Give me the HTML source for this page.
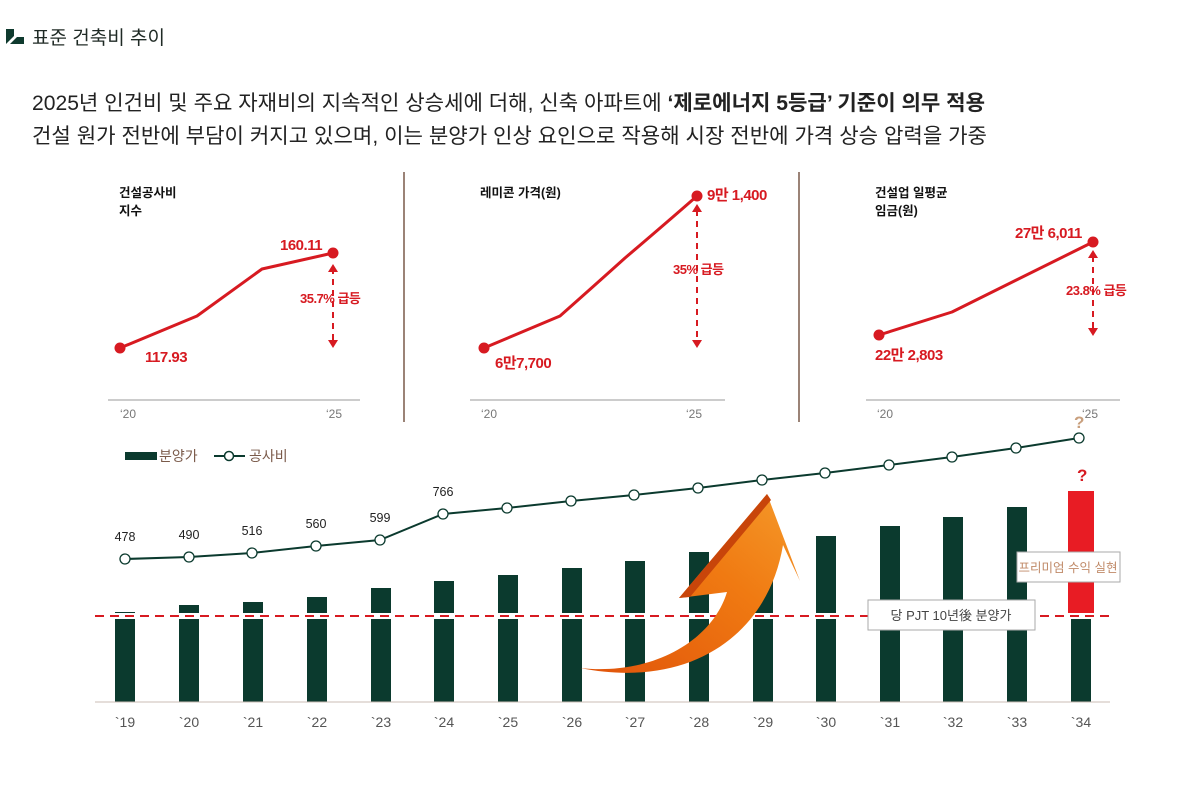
<!DOCTYPE html>
<html><head><meta charset="utf-8"><style>
body{margin:0;background:#fff;width:1200px;height:789px;overflow:hidden}
svg{display:block}
text{font-family:"Liberation Sans","Noto Sans CJK KR",sans-serif}
</style></head><body>
<svg width="1200" height="789" viewBox="0 0 1200 789">
<defs>
<linearGradient id="og" x1="0" y1="1" x2="1" y2="0">
<stop offset="0" stop-color="#e0530a"/><stop offset="0.6" stop-color="#f07a12"/><stop offset="1" stop-color="#f59a2a"/>
</linearGradient>
</defs>
<polygon points="6,29 14,29 14,36 6,44" fill="#0f3a2e"/>
<polygon points="17,37 24,37 24,44 10,44" fill="#0f3a2e"/>
<text x="32" y="44" font-size="19" fill="#1f2a25">표준 건축비 추이</text>
<text x="32" y="110" font-size="21" fill="#222" textLength="953" lengthAdjust="spacingAndGlyphs">2025년 인건비 및 주요 자재비의 지속적인 상승세에 더해, 신축 아파트에 <tspan font-weight="bold">‘제로에너지 5등급’ 기준이 의무 적용</tspan></text>
<text x="32" y="143" font-size="21" fill="#222" textLength="955" lengthAdjust="spacingAndGlyphs">건설 원가 전반에 부담이 커지고 있으며, 이는 분양가 인상 요인으로 작용해 시장 전반에 가격 상승 압력을 가중</text>

<line x1="404" y1="172" x2="404" y2="422" stroke="#7a5a4a" stroke-width="1.5"/>
<line x1="799" y1="172" x2="799" y2="422" stroke="#7a5a4a" stroke-width="1.5"/>

<g fill="#111" font-size="12.5" font-weight="bold">
<text x="119" y="197">건설공사비</text><text x="119" y="215">지수</text>
<text x="480" y="197">레미콘 가격(원)</text>
<text x="875" y="197">건설업 일평균</text><text x="875" y="215">임금(원)</text>
</g>
<g stroke="#999" stroke-width="1">
<line x1="108" y1="400" x2="360" y2="400"/>
<line x1="470" y1="400" x2="725" y2="400"/>
<line x1="866" y1="400" x2="1120" y2="400"/>
</g>
<g fill="#777" font-size="12">
<text x="120" y="418">‘20</text><text x="326" y="418">‘25</text>
<text x="481" y="418">‘20</text><text x="686" y="418">‘25</text>
<text x="877" y="418">‘20</text><text x="1082" y="418">‘25</text>
</g>
<g fill="none" stroke="#d71a21" stroke-width="3" stroke-linejoin="round">
<polyline points="120,348 197,316 262,269 333,253"/>
<path d="M484,348 L560,316 Q595,285 625,258 Q665,224 697,196"/>
<polyline points="879,335 952,312 1093,242"/>
</g>
<g fill="#d71a21">
<circle cx="120" cy="348" r="5.5"/><circle cx="333" cy="253" r="5.5"/>
<circle cx="484" cy="348" r="5.5"/><circle cx="697" cy="196" r="5.5"/>
<circle cx="879" cy="335" r="5.5"/><circle cx="1093" cy="242" r="5.5"/>
</g>
<g stroke="#d71a21" stroke-width="2" stroke-dasharray="6,5">
<line x1="333" y1="268" x2="333" y2="340"/>
<line x1="697" y1="210" x2="697" y2="338"/>
<line x1="1093" y1="256" x2="1093" y2="328"/>
</g>
<g fill="#d71a21">
<polygon points="328,272 338,272 333,264"/><polygon points="328,340 338,340 333,348"/>
<polygon points="692,212 702,212 697,204"/><polygon points="692,340 702,340 697,348"/>
<polygon points="1088,258 1098,258 1093,250"/><polygon points="1088,328 1098,328 1093,336"/>
</g>
<g fill="#d71a21" font-size="15" font-weight="bold" letter-spacing="-0.5">
<text x="145" y="362">117.93</text><text x="280" y="250">160.11</text>
<text x="300" y="303" font-size="13">35.7% 급등</text>
<text x="495" y="368">6만7,700</text><text x="707" y="200">9만 1,400</text>
<text x="673" y="274" font-size="13">35% 급등</text>
<text x="875" y="360">22만 2,803</text><text x="1015" y="238">27만 6,011</text>
<text x="1066" y="295" font-size="13">23.8% 급등</text>
</g>

<rect x="125" y="452" width="32" height="8" fill="#0b3a2e"/>
<text x="159" y="461" font-size="14" fill="#7a5a4a">분양가</text>
<line x1="214" y1="456" x2="245" y2="456" stroke="#0b3a2e" stroke-width="2"/>
<circle cx="229" cy="456" r="4.5" fill="#fff" stroke="#0b3a2e" stroke-width="1.5"/>
<text x="249" y="461" font-size="14" fill="#7a5a4a">공사비</text>

<g fill="#0b3a2e">
<rect x="115" y="612" width="20" height="90"/>
<rect x="179" y="605" width="20" height="97"/>
<rect x="243" y="602" width="20" height="100"/>
<rect x="307" y="597" width="20" height="105"/>
<rect x="371" y="588" width="20" height="114"/>
<rect x="434" y="581" width="20" height="121"/>
<rect x="498" y="575" width="20" height="127"/>
<rect x="562" y="568" width="20" height="134"/>
<rect x="625" y="561" width="20" height="141"/>
<rect x="689" y="552" width="20" height="150"/>
<rect x="753" y="545" width="20" height="157"/>
<rect x="816" y="536" width="20" height="166"/>
<rect x="880" y="526" width="20" height="176"/>
<rect x="943" y="517" width="20" height="185"/>
<rect x="1007" y="507" width="20" height="195"/>
<rect x="1071" y="616" width="20" height="86"/>
</g>
<rect x="1068" y="491" width="26" height="125" fill="#e81c24"/>
<line x1="95" y1="702" x2="1110" y2="702" stroke="#cbbcb4" stroke-width="1"/>
<line x1="95" y1="616" x2="1110" y2="616" stroke="#fff" stroke-width="6"/>
<line x1="95" y1="616" x2="1110" y2="616" stroke="#d71a21" stroke-width="2" stroke-dasharray="9,6"/>

<path d="M580,668 C650,676 712,642 727,592 L679,598 L767,494 L800,581 L783,545 C768,635 690,690 580,668 Z" fill="url(#og)"/>
<path d="M679,598 L767,494 L771,500 L690,597 Z" fill="#c8450a"/>

<polyline fill="none" stroke="#0b3a2e" stroke-width="2" points="125,559 189,557 252,553 316,546 380,540 443,514 507,508 571,501 634,495 698,488 762,480 825,473 889,465 952,457 1016,448 1079,438"/>
<g fill="#fff" stroke="#0b3a2e" stroke-width="1.3">
<circle cx="125" cy="559" r="5"/><circle cx="189" cy="557" r="5"/><circle cx="252" cy="553" r="5"/><circle cx="316" cy="546" r="5"/><circle cx="380" cy="540" r="5"/><circle cx="443" cy="514" r="5"/><circle cx="507" cy="508" r="5"/><circle cx="571" cy="501" r="5"/><circle cx="634" cy="495" r="5"/><circle cx="698" cy="488" r="5"/><circle cx="762" cy="480" r="5"/><circle cx="825" cy="473" r="5"/><circle cx="889" cy="465" r="5"/><circle cx="952" cy="457" r="5"/><circle cx="1016" cy="448" r="5"/><circle cx="1079" cy="438" r="5"/>
</g>
<g font-size="12.5" fill="#222" text-anchor="middle">
<text x="125" y="541">478</text><text x="189" y="539">490</text><text x="252" y="535">516</text><text x="316" y="528">560</text><text x="380" y="522">599</text><text x="443" y="496">766</text>
</g>
<text x="1074" y="428" font-size="17" font-weight="bold" fill="#c9a07e">?</text>
<text x="1077" y="481" font-size="17" font-weight="bold" fill="#d71a21">?</text>

<rect x="1017" y="552" width="103" height="30" fill="#fff" stroke="#aaa"/>
<text x="1068" y="572" font-size="12.5" fill="#c08a68" text-anchor="middle">프리미엄 수익 실현</text>
<rect x="868" y="600" width="167" height="30" fill="#fff" stroke="#aaa"/>
<text x="951" y="620" font-size="13" fill="#444" text-anchor="middle">당 PJT 10년後 분양가</text>

<g font-size="14" fill="#555" text-anchor="middle">
<text x="125" y="727">`19</text><text x="189" y="727">`20</text><text x="253" y="727">`21</text><text x="317" y="727">`22</text><text x="381" y="727">`23</text><text x="444" y="727">`24</text><text x="508" y="727">`25</text><text x="572" y="727">`26</text><text x="635" y="727">`27</text><text x="699" y="727">`28</text><text x="763" y="727">`29</text><text x="826" y="727">`30</text><text x="890" y="727">`31</text><text x="953" y="727">`32</text><text x="1017" y="727">`33</text><text x="1081" y="727">`34</text>
</g>
</svg>
</body></html>
